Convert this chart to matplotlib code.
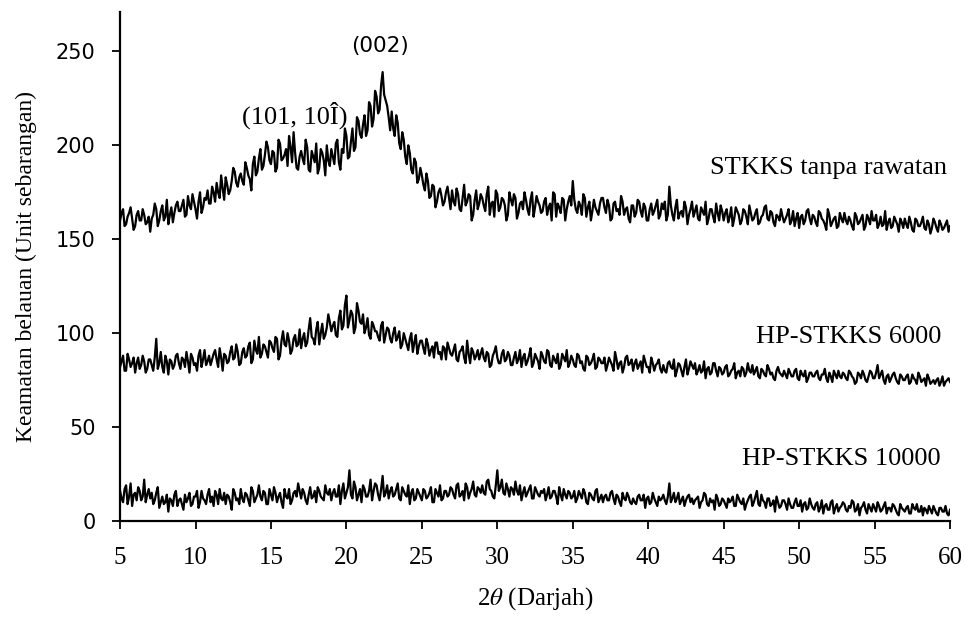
import numpy as np
import matplotlib
matplotlib.use("Agg")
import matplotlib.pyplot as plt

plt.rcParams["mathtext.fontset"] = "stix"

# 2-theta grid: 5 to 60 degrees, step 0.1
two_theta = np.round(np.arange(5.0, 60.0001, 0.1), 1)

# values at 5.0, 5.2, ..., 60.0
stkks_raw_even = [
    160,166,158,164,161,157,165,160,163,159,
    154,163,166,160,168,162,158,167,164,170,
    165,171,163,168,174,166,170,164,172,176,
    169,175,180,172,177,183,174,181,186,178,
    185,179,188,182,190,184,193,187,195,199,
    190,196,188,201,193,198,205,191,196,187,
    197,190,199,186,194,201,188,196,184,192,
    198,190,203,187,196,205,194,209,199,213,
    204,216,208,221,214,226,219,239,224,215,
    218,205,212,198,203,190,196,185,191,182,
    184,176,181,173,178,170,177,168,175,172,
    176,168,174,165,179,170,173,163,176,169,
    172,165,178,169,162,174,167,171,160,175,
    168,172,164,170,175,166,171,162,173,168,
    165,172,167,160,174,169,164,171,166,173,
    181,166,170,163,172,167,160,171,165,169,
    172,164,168,161,170,166,173,163,167,159,
    168,164,170,162,167,160,169,165,171,163,
    166,160,178,163,167,161,165,170,158,166,
    162,168,160,165,170,161,166,159,164,168,
    160,166,162,157,167,163,160,165,158,164,
    161,166,159,163,168,160,164,157,162,166,
    159,163,158,165,161,156,163,160,166,158,
    162,157,164,160,155,163,159,162,157,161,
    164,158,160,155,162,159,163,157,161,165,
    160,156,162,158,155,161,157,160,154,159,
    161,156,159,154,160,157,162,155,158,156,
    159,154,158,156,160,157,
]
# values at 5.1, 5.3, ..., 59.9
stkks_raw_odd = [
    164,157,162,167,155,163,160,166,158,162,
    161,169,157,165,160,171,163,159,168,165,
    168,162,173,166,170,161,175,167,171,169,
    178,170,175,184,171,179,176,188,180,183,
    181,191,184,176,194,186,198,189,202,192,
    197,186,203,192,195,189,199,207,188,194,
    193,203,187,197,191,185,198,192,200,189,
    194,201,191,198,209,193,202,197,215,206,
    211,205,223,210,229,217,232,227,221,208,
    209,216,201,207,194,200,187,193,180,188,
    179,185,172,179,167,175,173,170,178,166,
    170,177,166,172,168,174,160,171,166,174,
    168,174,163,170,176,165,172,168,163,171,
    174,161,169,166,171,163,175,167,170,164,
    170,163,169,175,162,167,172,160,170,168,
    171,164,168,174,162,170,165,167,163,172,
    167,171,160,169,165,163,170,166,161,168,
    162,171,165,169,160,166,163,168,161,169,
    170,163,168,160,171,164,162,167,163,170,
    165,161,167,163,158,166,162,169,160,165,
    164,159,167,161,165,158,166,162,168,160,
    164,158,162,167,161,165,159,163,160,162,
    161,166,160,157,164,162,158,165,161,163,
    159,165,161,158,166,157,161,156,164,159,
    160,162,157,164,158,161,155,163,158,160,
    163,158,157,165,159,156,162,158,161,156,
    158,162,155,161,157,159,156,160,153,161,
    156,160,155,158,154,
]

hp_6000_even = [
    82,88,80,86,84,79,87,83,85,81,
    86,80,97,84,82,88,78,85,83,89,
    81,86,90,79,87,84,88,82,91,85,
    83,89,86,92,80,88,85,93,87,90,
    84,92,88,95,86,91,98,89,93,87,
    95,90,97,88,101,93,96,91,99,94,
    92,100,95,108,97,102,94,105,99,110,
    101,106,98,112,104,120,107,110,103,112,
    105,100,108,97,104,101,96,106,99,102,
    95,103,98,92,100,94,97,90,99,93,
    96,89,94,91,87,95,90,93,86,92,
    88,94,85,91,87,96,84,90,88,86,
    92,85,89,83,90,87,84,91,86,88,
    83,90,86,82,89,85,92,84,87,81,
    88,84,90,82,86,89,83,87,91,84,
    86,82,88,85,80,87,84,89,82,86,
    84,80,87,83,90,81,85,82,88,84,
    80,86,83,79,85,82,87,80,84,81,
    83,79,85,81,77,84,80,82,78,85,
    81,78,83,80,76,82,79,84,77,81,
    79,83,78,81,76,80,82,77,84,79,
    78,82,76,80,77,81,79,75,82,78,
    80,76,79,77,81,75,78,80,76,79,
    77,80,75,78,76,79,74,78,80,76,
    78,75,79,76,74,78,80,75,77,79,
    76,83,78,75,77,74,78,76,73,77,
    75,78,74,76,73,77,75,72,76,74,
    73,76,74,72,75,74,
]
hp_6000_odd = [
    85,80,89,82,87,84,81,88,79,86,
    83,87,81,90,79,85,86,81,88,84,
    87,82,85,89,83,80,91,86,83,88,
    86,91,82,87,89,84,90,86,94,83,
    90,87,93,84,96,89,87,94,90,96,
    92,98,86,96,94,100,89,97,93,102,
    97,93,102,98,94,106,100,97,103,106,
    104,99,108,102,115,103,112,100,116,106,
    110,103,99,106,101,98,104,95,103,97,
    100,96,101,94,97,91,100,95,89,96,
    92,97,88,93,95,89,86,92,95,89,
    91,86,90,93,84,89,92,86,91,89,
    87,90,82,88,93,84,89,85,90,83,
    87,84,91,87,83,88,82,89,85,90,
    85,91,83,88,84,81,89,85,82,88,
    83,89,84,81,88,83,86,81,87,84,
    87,83,85,80,86,84,79,87,83,86,
    84,81,85,88,82,79,84,83,86,79,
    80,84,82,86,80,83,77,86,81,83,
    84,80,79,85,81,78,84,80,82,78,
    82,77,80,84,79,77,81,79,80,83,
    80,77,81,78,83,78,76,80,79,77,
    78,81,77,80,76,80,77,74,79,77,
    79,76,78,81,74,77,80,76,77,79,
    76,80,77,73,79,76,78,74,80,76,
    79,76,80,73,78,76,79,74,78,75,
    77,73,78,75,79,74,76,78,73,75,
    75,72,77,74,76,
]

hp_10000_even = [
    16,10,19,13,8,15,18,11,22,14,
    12,9,15,7,13,10,5,11,14,8,
    12,6,10,15,9,13,7,16,11,14,
    10,8,14,17,11,9,13,6,15,12,
    17,10,14,8,16,12,19,11,15,9,
    14,18,10,15,7,13,17,11,16,20,
    12,15,9,18,13,10,16,12,19,14,
    11,17,13,9,20,15,27,12,18,14,
    10,17,13,22,16,19,11,24,15,12,
    18,14,20,11,16,13,9,17,12,15,
    11,16,13,18,10,15,19,12,16,14,
    17,12,20,14,11,18,15,21,13,17,
    19,14,22,16,12,27,18,15,20,13,
    17,21,14,11,18,15,19,12,16,13,
    15,11,18,13,16,9,14,17,12,15,
    13,10,16,12,15,9,14,11,17,12,
    10,14,11,16,9,13,8,12,15,10,
    12,9,14,11,7,13,10,12,8,11,
    14,9,20,12,10,15,11,8,13,10,
    9,12,7,11,14,8,10,6,12,9,
    11,7,10,13,8,12,9,6,11,14,
    10,16,8,11,7,12,9,5,10,8,
    11,6,9,7,12,8,5,10,7,9,
    6,10,7,4,9,6,11,7,5,8,
    9,5,7,10,6,3,8,6,9,5,
    7,10,5,8,4,7,9,6,3,7,
    5,8,4,7,9,5,3,6,8,4,
    6,3,7,5,4,6,
]
hp_10000_odd = [
    12,17,9,20,14,11,16,13,10,17,
    15,11,18,10,9,14,12,8,16,11,
    9,14,12,8,13,16,10,12,9,17,
    13,16,9,12,15,14,10,17,11,9,
    12,15,11,18,10,14,13,16,9,17,
    11,15,13,10,17,12,9,15,13,16,
    17,11,14,12,16,18,13,11,15,17,
    15,13,19,16,12,18,14,21,11,17,
    19,13,16,11,20,14,17,13,19,16,
    13,17,12,18,14,19,15,11,17,13,
    17,12,15,10,17,13,11,16,13,18,
    14,19,13,16,20,12,17,14,18,15,
    15,21,17,13,19,16,22,14,17,18,
    14,16,19,15,13,17,12,18,14,16,
    17,14,12,16,13,18,11,14,16,12,
    16,12,14,17,10,15,12,16,10,14,
    13,11,15,12,14,10,15,11,13,9,
    10,13,11,14,12,9,15,10,13,12,
    11,13,10,15,12,9,13,11,14,12,
    11,13,10,15,9,12,11,14,8,12,
    9,12,11,8,14,10,12,9,13,8,
    13,9,14,10,12,8,11,13,7,11,
    9,12,7,10,8,11,9,6,12,7,
    9,5,11,8,6,10,4,9,7,10,
    6,8,11,5,9,7,10,4,7,9,
    5,8,6,10,7,5,8,4,9,6,
    7,4,9,6,5,8,7,4,6,8,
    4,7,5,8,3,
]

series_labels = ["STKKS tanpa rawatan", "HP-STKKS 6000", "HP-STKKS 10000"]
label_pos = [(59.8, 188), (59.4, 98), (59.4, 33)]
peak_labels = ["(002)", "(101, 10Î)"]
peak_pos = [(22.2, 253), (16.6, 216)]

x_ticks = list(range(5, 61, 5))
y_ticks = list(range(0, 251, 50))


def combine(even, odd):
    y = np.empty(len(even) + len(odd))
    y[0::2] = even
    y[1::2] = odd
    return y


fig = plt.figure(figsize=(9.65, 6.17), dpi=100)
ax = fig.add_axes([0.1244, 0.1556, 0.8601, 0.825])

for ev, od in ((stkks_raw_even, stkks_raw_odd),
               (hp_6000_even, hp_6000_odd),
               (hp_10000_even, hp_10000_odd)):
    ax.plot(two_theta, combine(ev, od), color="black", linewidth=1.6)

ax.set_xlim(5, 60)
ax.set_ylim(0, 271)
ax.set_xticks(x_ticks)
ax.set_yticks(y_ticks)

for s in ("top", "right"):
    ax.spines[s].set_visible(False)
for s in ("left", "bottom"):
    ax.spines[s].set_linewidth(1.6)
ax.tick_params(direction="out", length=5.5, width=1.3)

for lab in ax.get_xticklabels():
    lab.set_fontfamily("Liberation Serif")
    lab.set_fontsize(18)
for lab in ax.get_yticklabels():
    lab.set_fontfamily("DejaVu Sans")
    lab.set_fontsize(15)
ax.tick_params(axis="x", pad=13)
ax.tick_params(axis="y", pad=12)

ax.set_xlabel(r"2$\theta$ (Darjah)", fontfamily="Liberation Serif", fontsize=18, labelpad=12)
ax.set_ylabel("Keamatan belauan (Unit sebarangan)", fontfamily="Liberation Serif",
              fontsize=17, labelpad=14)

for txt, (x, y) in zip(series_labels, label_pos):
    ax.text(x, y, txt, ha="right", va="center", fontfamily="Liberation Serif", fontsize=19)

ax.text(peak_pos[0][0], peak_pos[0][1], peak_labels[0], ha="center", va="center",
        fontfamily="DejaVu Sans", fontsize=15.5)
ax.text(peak_pos[1][0], peak_pos[1][1], peak_labels[1], ha="center", va="center",
        fontfamily="Liberation Serif", fontsize=19)

fig.savefig("out.png", dpi=100)
